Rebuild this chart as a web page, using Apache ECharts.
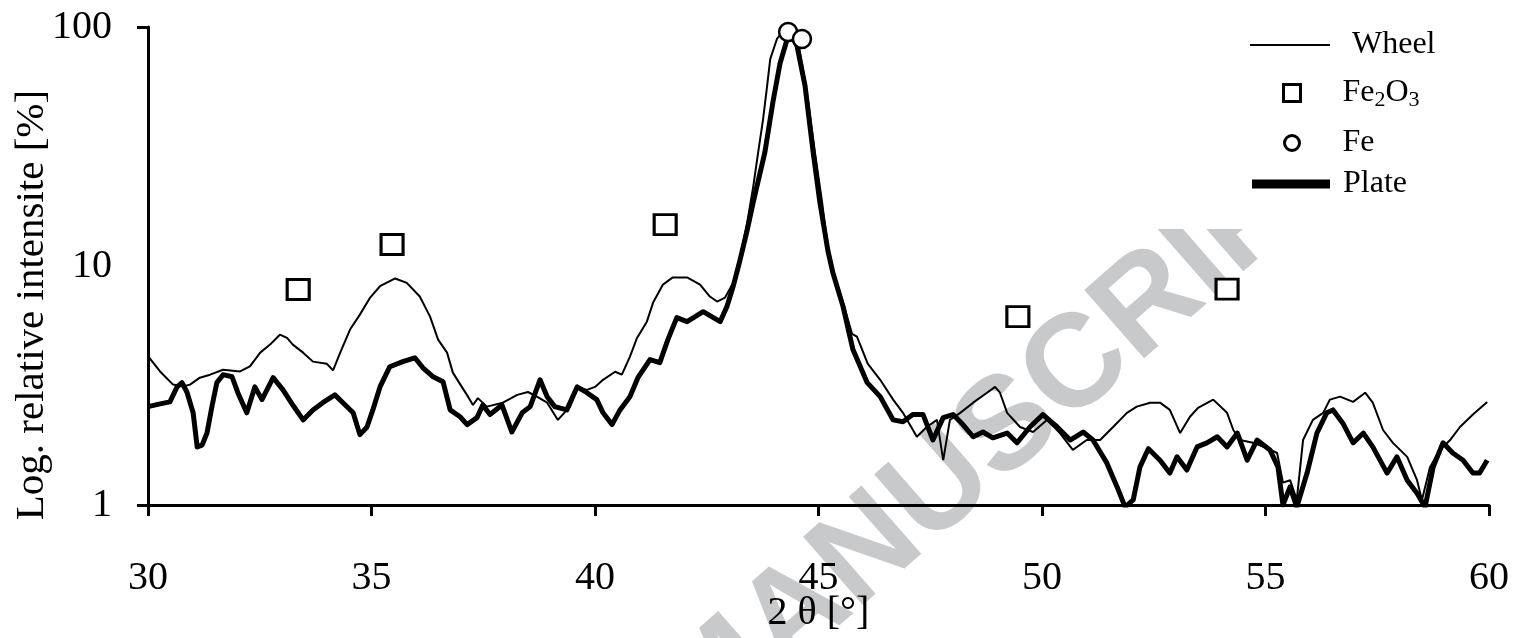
<!DOCTYPE html>
<html>
<head>
<meta charset="utf-8">
<script src="https://cdn.jsdelivr.net/npm/echarts@6/dist/echarts.min.js"></script>
<style>
html,body{margin:0;padding:0;background:#fff;}
#chart{width:1520px;height:638px;}
</style>
</head>
<body>
<div id="chart"></div>
<script>
// 2 theta [deg] and log relative intensity [%]
var wheelAngle = [30.0,30.27,30.56,30.78,30.94,31.16,31.39,31.68,32.06,32.28,32.51,32.73,32.95,33.11,33.24,33.47,33.69,34.0,34.14,34.30,34.52,34.74,34.97,35.19,35.53,35.79,36.08,36.31,36.49,36.69,36.82,37.02,37.16,37.27,37.38,37.58,37.94,38.26,38.50,38.70,38.93,39.17,39.44,39.60,39.82,40.0,40.18,40.45,40.60,40.78,40.94,41.16,41.30,41.52,41.74,42.06,42.35,42.57,42.73,42.91,43.09,43.24,43.40,43.54,43.65,43.76,43.85,43.92,44.07,44.21,44.36,44.52,44.65,44.77,44.92,45.08,45.21,45.32,45.55,45.75,45.86,45.95,46.10,46.38,46.67,46.89,47.20,47.42,47.65,47.79,47.94,48.17,48.46,48.77,48.95,49.06,49.22,49.51,49.80,50.11,50.40,50.69,51.0,51.30,51.59,51.90,52.12,52.42,52.64,52.86,53.09,53.31,53.49,53.83,54.14,54.28,54.43,54.72,55.03,55.26,55.39,55.55,55.70,55.84,56.06,56.29,56.44,56.67,56.96,57.23,57.40,57.63,57.85,58.17,58.39,58.50,58.68,58.90,59.13,59.35,59.64,59.96];
var wheelValue = [4.2,3.62,3.19,3.13,3.19,3.41,3.51,3.68,3.62,3.80,4.34,4.69,5.16,5.0,4.69,4.34,3.98,3.90,3.66,4.34,5.42,6.26,7.38,8.23,8.87,8.5,7.45,6.14,4.92,4.34,3.58,3.12,2.84,2.62,2.80,2.58,2.68,2.89,2.97,2.84,2.68,2.27,2.58,3.12,3.03,3.12,3.34,3.61,3.51,4.17,5.0,5.85,7.03,8.36,8.96,8.96,8.36,7.45,7.1,7.38,8.5,10.8,15.0,21.5,29.9,41.1,56.6,73.4,89.1,96.2,98.5,91.7,66.7,48.5,29.9,18.5,11.8,9.6,7.0,5.2,5.06,4.6,3.9,3.34,2.76,2.43,1.93,2.12,2.27,1.54,2.27,2.43,2.68,2.95,3.12,2.95,2.43,2.12,2.02,2.27,2.0,1.70,1.87,1.87,2.12,2.43,2.58,2.68,2.68,2.50,2.0,2.34,2.55,2.76,2.43,2.06,1.87,1.82,1.73,1.65,1.24,1.27,1.05,1.87,2.27,2.43,2.76,2.84,2.70,2.95,2.68,2.06,1.82,1.59,1.27,1.05,1.44,1.70,1.87,2.12,2.39,2.70];

var plateAngle = [30.0,30.27,30.49,30.65,30.76,30.87,31.01,31.10,31.21,31.32,31.43,31.54,31.68,31.88,32.01,32.21,32.39,32.55,32.80,33.02,33.24,33.47,33.69,33.91,34.18,34.36,34.59,34.74,34.90,35.03,35.19,35.41,35.70,35.97,36.15,36.38,36.60,36.76,36.98,37.14,37.36,37.49,37.65,37.92,38.14,38.37,38.55,38.77,38.93,39.10,39.37,39.60,39.82,40.04,40.18,40.38,40.56,40.78,40.96,41.23,41.45,41.63,41.83,42.06,42.42,42.80,42.95,43.09,43.24,43.40,43.54,43.80,43.98,44.14,44.30,44.41,44.52,44.70,44.88,45.03,45.21,45.32,45.55,45.77,46.09,46.38,46.67,46.89,47.11,47.34,47.56,47.79,48.01,48.23,48.46,48.68,48.90,49.22,49.44,49.73,50.02,50.34,50.63,50.92,51.14,51.45,51.68,51.86,52.04,52.19,52.38,52.64,52.86,53.02,53.24,53.47,53.69,53.92,54.14,54.37,54.59,54.81,55.10,55.28,55.39,55.55,55.70,55.93,56.15,56.37,56.51,56.73,56.96,57.19,57.40,57.72,57.94,58.17,58.39,58.57,58.75,58.97,59.19,59.42,59.64,59.79,59.96];
var plateValue = [2.58,2.65,2.70,3.12,3.25,2.97,2.43,1.75,1.78,2.0,2.58,3.25,3.51,3.44,2.95,2.43,3.12,2.76,3.41,3.03,2.62,2.27,2.50,2.68,2.89,2.68,2.43,1.97,2.12,2.50,3.12,3.79,3.98,4.13,3.75,3.44,3.28,2.50,2.34,2.17,2.32,2.62,2.39,2.62,2.02,2.43,2.58,3.34,2.84,2.58,2.50,3.12,2.95,2.76,2.43,2.17,2.50,2.84,3.41,4.06,3.94,4.92,6.08,5.85,6.44,5.85,6.76,8.2,10.5,14.0,18.5,29.9,48.5,70.5,89.1,91.7,83.2,56.6,29.9,18.5,11.6,9.4,6.76,4.47,3.25,2.84,2.27,2.23,2.39,2.39,1.87,2.32,2.39,2.17,1.93,2.02,1.91,2.0,1.82,2.12,2.39,2.12,1.87,2.02,1.87,1.50,1.19,0.98,1.05,1.44,1.72,1.54,1.36,1.59,1.40,1.75,1.82,1.93,1.75,2.0,1.54,1.87,1.70,1.44,1.0,1.19,0.98,1.36,2.0,2.43,2.50,2.2,1.82,2.0,1.75,1.36,1.59,1.27,1.12,0.98,1.44,1.82,1.65,1.54,1.36,1.36,1.54];

// reference peak positions
var fe2o3Angle = [33.36,35.46,41.57,49.46,54.14];
var fe2o3Value = [7.97,12.3,14.9,6.14,8.0];
var feAngle = [44.32,44.63];
var feValue = [95.3,89.1];

function pairs(xs, ys){
  var out = [];
  for (var i = 0; i < xs.length; i++) out.push([xs[i], ys[i]]);
  return out;
}

var serif = '"Liberation Serif", "Times New Roman", serif';
var legendText = {
  fontFamily: serif, fontSize: 32, color: '#000',
  rich: {
    n: { fontFamily: serif, fontSize: 32, color: '#000' },
    s: { fontFamily: serif, fontSize: 22, color: '#000', padding: [14, 0, 0, 0] }
  }
};
function legendItem(name, left, top, w, h, icon, itemStyle, pad) {
  return {
    orient: 'vertical', left: left, top: top, padding: 0,
    itemWidth: w, itemHeight: h, selectedMode: false,
    icon: icon,
    itemStyle: itemStyle,
    textStyle: Object.assign({}, legendText, { padding: [0, 0, 0, pad] }),
    formatter: function (n) { return n === 'Fe2O3' ? '{n|Fe}{s|2}{n|O}{s|3}' : n; },
    data: [name]
  };
}

var chart = echarts.init(document.getElementById('chart'));
chart.setOption({
  animation: false,
  backgroundColor: '#fff',
  grid: { left: 148, right: 31, top: 27, bottom: 133, outerBoundsMode: 'none', containLabel: false },
  graphic: [
    {
      type: 'text', x: 722, y: 680, rotation: 0.72, z: -10, silent: true,
      style: {
        text: 'ACCEPTED MANUSCRIPT', fill: '#c8c9cb',
        fontSize: 132, fontWeight: 'bold', fontFamily: '"Liberation Sans", Arial, sans-serif',
        align: 'center', verticalAlign: 'middle', textAlign: 'center', textVerticalAlign: 'middle'
      }
    },
    { type: 'rect', z: -5, silent: true, shape: { x: 1130, y: 0, width: 390, height: 229 }, style: { fill: '#fff' } }
  ],
  legend: [
    legendItem('Wheel', 1250, 29, 80, 2, 'rect', { color: '#000', borderWidth: 0 }, 17),
    legendItem('Fe2O3', 1282, 77, 17, 17, 'rect', { color: '#fff', borderColor: '#000', borderWidth: 3 }, 37),
    legendItem('Fe', 1283, 127, 15, 15, 'circle', { color: '#fff', borderColor: '#000', borderWidth: 3 }, 38),
    legendItem('Plate', 1252, 168, 78, 9, 'rect', { color: '#000', borderWidth: 0 }, 8)
  ],
  xAxis: {
    type: 'value',
    min: 30, max: 60, interval: 5,
    name: '2 θ [°]',
    nameLocation: 'middle',
    nameGap: 88,
    nameMoveOverlap: false,
    nameTextStyle: { fontFamily: serif, fontSize: 40, color: '#000' },
    axisLine: { onZero: false, lineStyle: { color: '#000', width: 3 } },
    axisTick: { inside: false, length: 11, lineStyle: { color: '#000', width: 3 } },
    axisLabel: { margin: 53, fontFamily: serif, fontSize: 40, color: '#000' },
    splitLine: { show: false }
  },
  yAxis: {
    type: 'log',
    logBase: 10,
    min: 1, max: 100,
    name: 'Log. relative intensite [%]',
    nameLocation: 'middle',
    nameRotate: 90,
    nameGap: 95,
    nameMoveOverlap: false,
    nameTextStyle: { fontFamily: serif, fontSize: 41, color: '#000', padding: [0, 78, 0, 0] },
    axisLine: { show: true, lineStyle: { color: '#000', width: 3 } },
    axisTick: { show: true, inside: false, length: 11, customValues: [1, 100], lineStyle: { color: '#000', width: 3 } },
    axisLabel: { margin: 36, fontFamily: serif, fontSize: 40, color: '#000' },
    splitLine: { show: false }
  },
  series: [
    {
      name: 'Plate', type: 'line', data: pairs(plateAngle, plateValue),
      symbol: 'none', showSymbol: false, z: 2,
      lineStyle: { color: '#000', width: 5, join: 'round' }, itemStyle: { color: '#000' }
    },
    {
      name: 'Wheel', type: 'line', data: pairs(wheelAngle, wheelValue),
      symbol: 'none', showSymbol: false, z: 3,
      lineStyle: { color: '#000', width: 2 }, itemStyle: { color: '#000' }
    },
    {
      name: 'Fe2O3', type: 'scatter', data: pairs(fe2o3Angle, fe2o3Value),
      symbol: 'rect', symbolSize: [22, 20], z: 4,
      itemStyle: { color: '#fff', borderColor: '#000', borderWidth: 3, opacity: 1 }
    },
    {
      name: 'Fe', type: 'scatter', data: pairs(feAngle, feValue),
      symbol: 'circle', symbolSize: 18, z: 4,
      itemStyle: { color: '#fff', borderColor: '#000', borderWidth: 2.5, opacity: 1 }
    }
  ]
});
</script>
</body>
</html>
